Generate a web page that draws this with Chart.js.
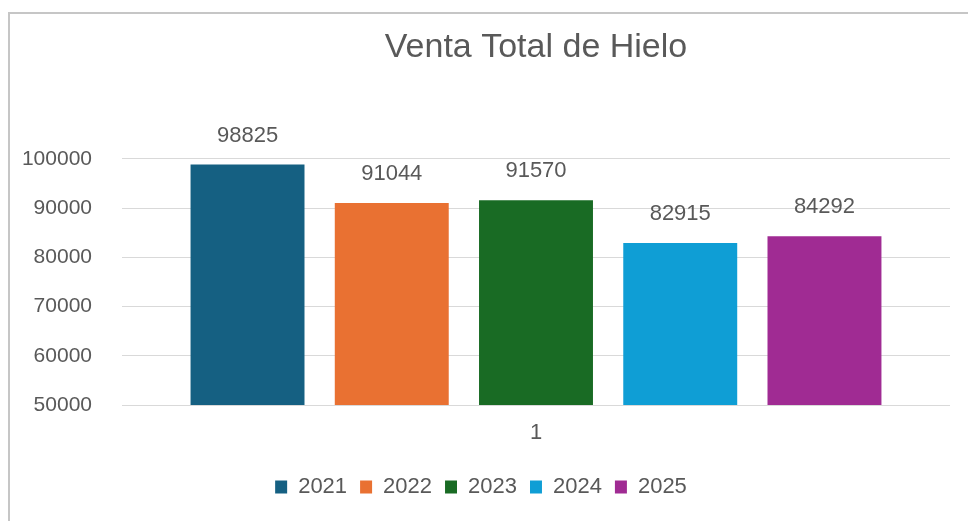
<!DOCTYPE html>
<html>
<head>
<meta charset="utf-8">
<script src="https://cdn.jsdelivr.net/npm/chart.js@4/dist/chart.umd.min.js"></script>
<style>
    html, body { margin: 0; padding: 0; background: #fff; overflow: hidden; }
    #frame { position: absolute; left: 8px; top: 12px; width: 1200px; height: 1200px; border: 2px solid #c6c6c6; }
    #wrap { position: absolute; left: 0; top: 0; width: 968px; height: 521px; }
</style>
</head>
<body>
<div id="frame"></div>
<div id="wrap"><canvas id="venta_hielo"></canvas></div>
<script>
var categorias = ["1"];
var anios = ["2021", "2022", "2023", "2024", "2025"];
var ventas = [98825, 91044, 91570, 82915, 84292];
var colores = ['#156082', '#E97132', '#196B24', '#0F9ED5', '#A02B93'];

var fuente = "'Liberation Sans', Arial, sans-serif";
var gris = '#595959';

// etiquetas de valor encima de cada barra
var etiquetas = {
    id: 'etiquetas',
    afterDatasetsDraw: function (chart) {
        var c = chart.ctx;
        c.save();
        c.font = '22px ' + fuente;
        c.fillStyle = gris;
        c.textAlign = 'center';
        c.textBaseline = 'middle';
        chart.data.datasets.forEach(function (ds, i) {
            chart.getDatasetMeta(i).data.forEach(function (bar, j) {
                c.fillText(ds.data[j], bar.x, bar.y - 29);
            });
        });
        c.restore();
    }
};

var ctx = document.getElementById("venta_hielo").getContext('2d');
var grafico = new Chart(ctx, {
    type: 'bar',
    data: {
        labels: categorias,
        datasets: anios.map(function (a, i) {
            return {
                label: a,
                data: [ventas[i]],
                backgroundColor: colores[i],
                borderWidth: 0
            };
        })
    },
    options: {
        responsive: true,
        maintainAspectRatio: false,
        animation: false,
        categoryPercentage: 0.871,
        barPercentage: 0.79,
        layout: { padding: { left: 12, right: 18, top: 0, bottom: 13 } },
        scales: {
            x: {
                grid: { display: false },
                border: { display: false },
                ticks: { color: gris, font: { family: fuente, size: 22 }, padding: 7 },
                afterFit: function (axis) { axis.height = 58; }
            },
            y: {
                min: 50000,
                max: 100000,
                grid: { color: '#d9d9d9', drawTicks: false },
                border: { display: false },
                ticks: {
                    stepSize: 10000, color: gris, font: { family: fuente, size: 21 }, padding: 30,
                    callback: function (v) { return String(v); }
                },
                afterFit: function (axis) { axis.width = 110; }
            }
        },
        plugins: {
            title: {
                display: true,
                fullSize: false,
                text: 'Venta Total de Hielo',
                color: gris,
                font: { family: fuente, size: 34, weight: 'normal' },
                padding: { top: 27, bottom: 91 }
            },
            legend: {
                position: 'bottom',
                labels: {
                    color: gris,
                    font: { family: fuente, size: 22 },
                    boxWidth: 12,
                    boxHeight: 13,
                    padding: 13
                }
            },
            tooltip: { enabled: false }
        }
    },
    plugins: [etiquetas]
});
</script>
</body>
</html>
